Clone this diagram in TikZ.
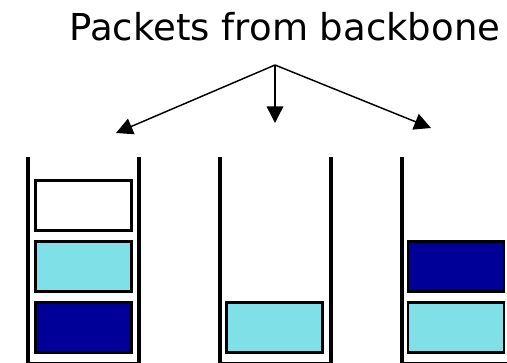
\documentclass[tikz,border=0pt]{standalone}
\usepackage{fontspec}
\setmainfont{DejaVu Sans}
\usetikzlibrary{arrows.meta}
\definecolor{pktlight}{RGB}{128,224,232}
\definecolor{pktdark}{RGB}{0,0,153}

\begin{document}
\begin{tikzpicture}[x=0.75pt, y=-0.75pt,
                        wall/.style={line width=2.3pt},
                        pkt/.style={draw, line width=2.2pt, minimum width=72pt, minimum height=37.5pt, inner sep=0pt},
                        feed/.style={line width=1.1pt, -{Triangle[length=12.5pt, width=12.5pt]}}]
                        \useasboundingbox (0,0) rectangle (507,363);

                        % Title:
                        \node [anchor=base, font=\fontsize{27.8}{30}\selectfont] (title) at (285,41) {Packets from backbone};

                        % Arrows:
                        \coordinate (split) at (275,65);
                        \coordinate (toA) at (116,133);
                        \coordinate (toB) at (275,123);
                        \coordinate (toC) at (431,128);
                        \draw [feed] (split) -- (toA);
                        \draw [feed] (split) -- (toB);
                        \draw [feed] (split) -- (toC);

                        % Queues:
                        \draw [wall] (28,157) -- (28,364) -- (139,364) -- (139,157);
                        \draw [wall] (220,157) -- (220,364) -- (331,364) -- (331,157);
                        \draw [wall] (402,157) -- (402,364) -- (513,364) -- (513,157);

                        % Packets:
                        \node [pkt, fill=white]     (a1) at (83.5,205.5) {};
                        \node [pkt, fill=pktlight]  (a2) at (83.5,266.5) {};
                        \node [pkt, fill=pktdark]   (a3) at (83.5,327.5) {};
                        \node [pkt, fill=pktlight]  (b1) at (274.5,327.5) {};
                        \node [pkt, fill=pktdark]   (c1) at (456,266.5) {};
                        \node [pkt, fill=pktlight]  (c2) at (456,327.5) {};
                    \end{tikzpicture}
\end{document}
